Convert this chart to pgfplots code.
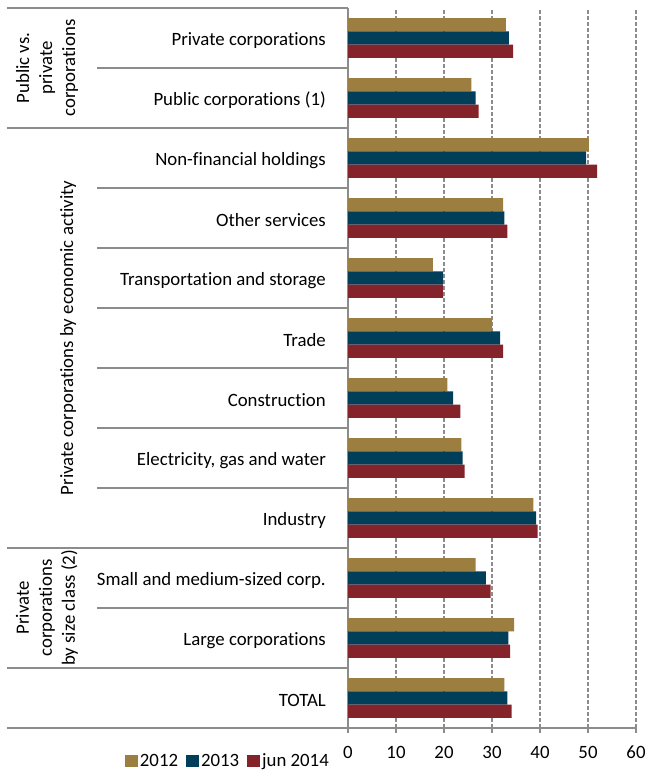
\documentclass[border=0pt]{standalone}
\usepackage{fontspec}
\setmainfont{Carlito}[RawFeature=-liga]
\usepackage{pgfplots}
\pgfplotsset{compat=1.18}
\definecolor{cA}{HTML}{9C7E40}
\definecolor{cB}{HTML}{003E5A}
\definecolor{cC}{HTML}{85232A}
\definecolor{lg}{HTML}{8C8C8C}
\begin{document}
\fontsize{18.8bp}{23bp}\selectfont
\begin{tikzpicture}
\path[use as bounding box] (0,0) rectangle (647bp,771bp);
\begin{axis}[
  at={(348bp,43bp)}, anchor=south west,
  scale only axis, width=288bp, height=720bp,
  xmin=0, xmax=60, ymin=0.5, ymax=12.5,
  xbar, bar width=0.222,
  axis x line*=bottom, axis y line*=left,
  axis line style={lg, line width=1.3bp},
  xtick={0,10,...,60},
  tick align=outside,
  major tick length=5bp,
  x tick style={lg, line width=1.2bp},
  y tick style={draw=none},
  xmajorgrids,
  major grid style={lg, line width=1.2bp, dash pattern=on 4bp off 2bp},
  ytick={1,...,12},
  yticklabels={TOTAL, Large corporations, Small and medium-sized corp., Industry, {Electricity, gas and water}, Construction, Trade, {Transportation and storage\hspace{5bp}}, Other services, Non-financial holdings, Public corporations (1), Private corporations},
  /pgf/number format/assume math mode=true,
  ticklabel style={font=\fontsize{18.8bp}{23bp}\selectfont},
  yticklabel style={anchor=east, inner sep=0pt, xshift=-17bp, yshift=-2.5bp},
  xticklabel style={inner sep=0pt, yshift=-13bp},
  clip=false,
  legend columns=3,
  legend style={at={(axis description cs:-0.066,-0.0465)}, anchor=east, draw=none, fill=none, inner sep=0pt,
    font=\fontsize{18.8bp}{23bp}\selectfont,
    nodes={inner sep=0pt},
    /tikz/every odd column/.append style={column sep=2bp},
    /tikz/every even column/.append style={column sep=8bp}},
  legend image code/.code={\fill[#1, draw=none] (0bp,-6bp) rectangle (13bp,6bp);},
]
\addplot[fill=cA, draw=none, bar shift=0.222] coordinates {
(32.6,1) (34.6,2) (26.6,3) (38.6,4) (23.6,5) (20.7,6) (30.0,7) (17.7,8) (32.3,9) (50.2,10) (25.7,11) (32.9,12)};
\addplot[fill=cB, draw=none, bar shift=0] coordinates {
(33.2,1) (33.4,2) (28.7,3) (39.2,4) (23.9,5) (21.9,6) (31.7,7) (19.8,8) (32.6,9) (49.6,10) (26.6,11) (33.5,12)};
\addplot[fill=cC, draw=none, bar shift=-0.222] coordinates {
(34.1,1) (33.8,2) (29.7,3) (39.5,4) (24.3,5) (23.4,6) (32.3,7) (19.8,8) (33.2,9) (51.9,10) (27.2,11) (34.4,12)};
\legend{2012, 2013, jun 2014}
% table rules
\draw[lg, line width=1.3bp] (axis cs:0,12.5) -- (axis cs:-71.04,12.5);
\draw[lg, line width=1.3bp] (axis cs:0,10.5) -- (axis cs:-71.04,10.5);
\draw[lg, line width=1.3bp] (axis cs:0,3.5) -- (axis cs:-71.04,3.5);
\draw[lg, line width=1.3bp] (axis cs:0,1.5) -- (axis cs:-71.04,1.5);
\draw[lg, line width=1.3bp] (axis cs:0,0.5) -- (axis cs:-71.04,0.5);
\draw[lg, line width=1.3bp] (axis cs:0,11.5) -- (axis cs:-52.29,11.5);
\draw[lg, line width=1.3bp] (axis cs:0,9.5) -- (axis cs:-52.29,9.5);
\draw[lg, line width=1.3bp] (axis cs:0,8.5) -- (axis cs:-52.29,8.5);
\draw[lg, line width=1.3bp] (axis cs:0,7.5) -- (axis cs:-52.29,7.5);
\draw[lg, line width=1.3bp] (axis cs:0,6.5) -- (axis cs:-52.29,6.5);
\draw[lg, line width=1.3bp] (axis cs:0,5.5) -- (axis cs:-52.29,5.5);
\draw[lg, line width=1.3bp] (axis cs:0,4.5) -- (axis cs:-52.29,4.5);
\draw[lg, line width=1.3bp] (axis cs:0,2.5) -- (axis cs:-52.29,2.5);
\node[rotate=90, align=center, inner sep=0pt, font=\fontsize{18.8bp}{23bp}\selectfont] at (axis cs:-62.71,11.5) {Public vs.\\private\\corporations};
\node[rotate=90, align=center, inner sep=0pt, font=\fontsize{18.8bp}{23bp}\selectfont] at (axis cs:-58.33,7) {Private corporations by economic activity};
\node[rotate=90, align=center, inner sep=0pt, font=\fontsize{18.8bp}{23bp}\selectfont] at (axis cs:-62.71,2.5) {Private\\corporations\\by size class (2)};
\end{axis}
\end{tikzpicture}
\end{document}
